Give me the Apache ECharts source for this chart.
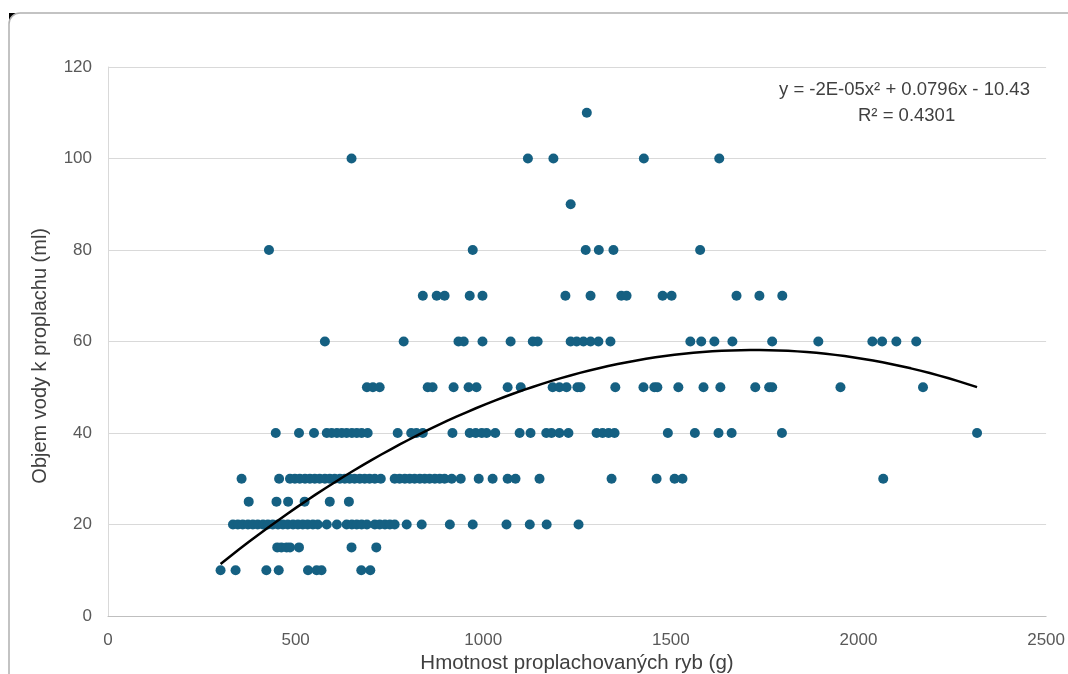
<!DOCTYPE html>
<html>
<head>
<meta charset="utf-8">
<script src="https://cdn.jsdelivr.net/npm/echarts@6/dist/echarts.min.js"></script>
<style>
html,body{margin:0;padding:0;background:#fff;}
#chart{width:1068px;height:674px;}
</style>
</head>
<body>
<div id="chart"></div>
<script>
// Fish weights (g) grouped by flushing water volume (ml)
const vol10 = [300, 340, 422, 455, 533, 556, 569, 675, 699];
const vol15 = [451, 462, 476, 485, 509, 649, 715];
const vol20 = [333, 346, 359, 373, 386, 399, 413, 426, 439, 453, 466, 479, 493, 506, 519, 532, 546, 559, 583, 610, 636, 650, 663, 676, 690, 711, 724, 738, 751, 764, 796, 836, 911, 972, 1062, 1124, 1169, 1254];
const vol25 = [375, 449, 480, 524, 591, 642];
const vol30 = [356, 456, 485, 498, 511, 525, 538, 551, 564, 578, 591, 604, 618, 631, 644, 657, 671, 684, 697, 711, 727, 764, 777, 791, 804, 817, 831, 844, 857, 871, 884, 897, 916, 940, 988, 1025, 1065, 1086, 1150, 1342, 1462, 1510, 1531, 2066];
const vol40 = [447, 509, 549, 583, 596, 610, 623, 636, 650, 663, 676, 692, 772, 808, 822, 839, 918, 964, 980, 996, 1009, 1032, 1097, 1126, 1168, 1182, 1203, 1227, 1302, 1318, 1334, 1350, 1492, 1564, 1627, 1662, 1796, 2316];
const vol50 = [690, 706, 724, 852, 865, 921, 961, 982, 1065, 1100, 1185, 1203, 1222, 1251, 1259, 1352, 1427, 1456, 1464, 1520, 1587, 1632, 1725, 1762, 1770, 1952, 2172];
const vol60 = [578, 788, 934, 948, 998, 1073, 1132, 1145, 1233, 1249, 1267, 1286, 1307, 1339, 1552, 1581, 1616, 1664, 1770, 1893, 2037, 2063, 2101, 2154];
const vol70 = [839, 876, 897, 964, 998, 1219, 1286, 1368, 1382, 1478, 1502, 1675, 1736, 1797];
const vol80 = [429, 972, 1273, 1308, 1347, 1578];
const vol90 = [1233];
const vol100 = [649, 1119, 1187, 1428, 1629];
const vol110 = [1276];

const volumeLevels = [10, 15, 20, 25, 30, 40, 50, 60, 70, 80, 90, 100, 110];
const weightsByLevel = [vol10, vol15, vol20, vol25, vol30, vol40, vol50, vol60, vol70, vol80, vol90, vol100, vol110];

const xTicks = [0, 500, 1000, 1500, 2000, 2500];
const yTicks = [0, 20, 40, 60, 80, 100, 120];

// Trendline coefficients (c0, c1, c2); c2 estimated from curve (label rounds it to -2E-05)
const trendCoef = [-10.43, 0.0796, -2.31e-5];

const equationText = 'y = -2E-05x\u00B2 + 0.0796x - 10.43';
const r2Text = 'R\u00B2 = 0.4301';
const xTitle = 'Hmotnost proplachovaných ryb (g)';
const yTitle = 'Objem vody k proplachu (ml)';

// Build scatter points
const points = [];
weightsByLevel.forEach((ws, i) => ws.forEach(w => points.push([w, volumeLevels[i]])));

const xs = points.map(p => p[0]);
const xMin = Math.min(...xs), xMax = Math.max(...xs);
const trend = [];
for (let i = 0; i <= 80; i++) {
  const x = xMin + (xMax - xMin) * i / 80;
  trend.push([x, trendCoef[0] + trendCoef[1] * x + trendCoef[2] * x * x]);
}

const FONT = '"Liberation Sans", Arial, sans-serif';
const chart = echarts.init(document.getElementById('chart'), null, {renderer: 'canvas'});
chart.setOption({
  animation: false,
  backgroundColor: '#ffffff',
  grid: {left: 108, right: 21, top: 67, bottom: 58},
  xAxis: {
    type: 'value', min: xTicks[0], max: xTicks[xTicks.length - 1], interval: 500,
    axisLine: {show: true, lineStyle: {color: '#bfbfbf', width: 1}},
    axisTick: {show: false},
    splitLine: {show: false},
    axisLabel: {color: '#595959', fontSize: 17, fontFamily: FONT, margin: 16,
      formatter: v => String(v)}
  },
  yAxis: {
    type: 'value', min: yTicks[0], max: yTicks[yTicks.length - 1], interval: 20,
    axisLine: {show: true, lineStyle: {color: '#d9d9d9', width: 1}},
    axisTick: {show: false},
    splitLine: {show: true, lineStyle: {color: '#d9d9d9', width: 1}},
    axisLabel: {color: '#595959', fontSize: 17, fontFamily: FONT, margin: 16,
      formatter: v => String(v)}
  },
  series: [
    {
      type: 'scatter', data: points, symbol: 'circle', symbolSize: 10,
      itemStyle: {color: '#156082', opacity: 1}, z: 3
    },
    {
      type: 'line', data: trend, showSymbol: false, smooth: false,
      lineStyle: {color: '#000000', width: 2.5}, z: 4, silent: true
    }
  ],
  graphic: [
    {type: 'rect', z: -10, shape: {x: 9, y: 13, width: 12, height: 12}, style: {fill: '#000'}},
    {type: 'rect', z: -9, shape: {x: 9, y: 13, width: 1070, height: 680, r: [11, 0, 0, 0]},
      style: {fill: '#fff', stroke: '#b0b0b0', lineWidth: 1.5}},
    {type: 'text', z: 10, left: 779, top: 80,
      style: {text: equationText, fill: '#404040', fontSize: 18.5, fontFamily: FONT}},
    {type: 'text', z: 10, left: 858, top: 106,
      style: {text: r2Text, fill: '#404040', fontSize: 18.5, fontFamily: FONT}},
    {type: 'text', z: 10, x: 577, y: 663,
      style: {text: xTitle, fill: '#404040', fontSize: 20.5, fontFamily: FONT,
        textAlign: 'center', textVerticalAlign: 'middle', align: 'center', verticalAlign: 'middle'}},
    {type: 'text', z: 10, left: 30, top: 228, rotation: Math.PI / 2,
      style: {text: yTitle, fill: '#404040', fontSize: 20, fontFamily: FONT}}
  ]
});
</script>
</body>
</html>
